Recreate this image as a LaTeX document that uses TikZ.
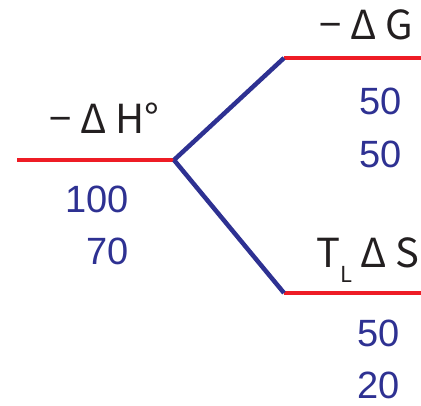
\documentclass[tikz,border=0pt]{standalone}
\usepackage{fontspec}
\newfontfamily\jpfont{Noto Sans CJK JP}
\newfontfamily\numfont{Liberation Sans}
\definecolor{lvlred}{HTML}{EE1C25}
\definecolor{lvlblue}{HTML}{2E3192}
\definecolor{txt}{HTML}{231F20}
\begin{document}
\begin{tikzpicture}[x=1pt,y=-1pt,
  level/.style={draw=lvlred,line width=4.5pt},
  link/.style={draw=lvlblue,line width=4.5pt},
  lbl/.style={inner sep=0pt,text=txt,font=\jpfont\fontsize{40}{40}\selectfont},
  num/.style={inner sep=0pt,text=lvlblue,font=\numfont\fontsize{38}{38}\selectfont,anchor=base east}]
\useasboundingbox (0,0) rectangle (421,406);
\coordinate (hl) at (17,160);
\coordinate (hr) at (174,160);
\coordinate (gl) at (284,58);
\coordinate (gr) at (425,58);
\coordinate (sl) at (284,293);
\coordinate (sr) at (425,293);
\draw[level] (hl) -- (hr);
\draw[level] (gl) -- (gr);
\draw[level] (sl) -- (sr);
\draw[link,line cap=butt] (hr) -- (gl);
\draw[link] (hr) -- (sl);
\node[lbl,anchor=base west] (H) at (49,134) {−\hspace{9pt}Δ\hspace{9pt}H°};
\node[lbl,anchor=base west] (G) at (319,40) {−\hspace{9pt}Δ\hspace{9pt}G};
\node[lbl,anchor=base west] (S) at (316,268) {T\raisebox{-15pt}{\fontsize{22}{22}\selectfont L}\hspace{8pt}Δ\hspace{9pt}S};
\node[num] (h1) at (129,213) {100};
\node[num] (h2) at (129,265) {70};
\node[num] (g1) at (402,115) {50};
\node[num] (g2) at (402,168) {50};
\node[num] (s1) at (400,347) {50};
\node[num] (s2) at (400,399) {20};
\end{tikzpicture}
\end{document}
